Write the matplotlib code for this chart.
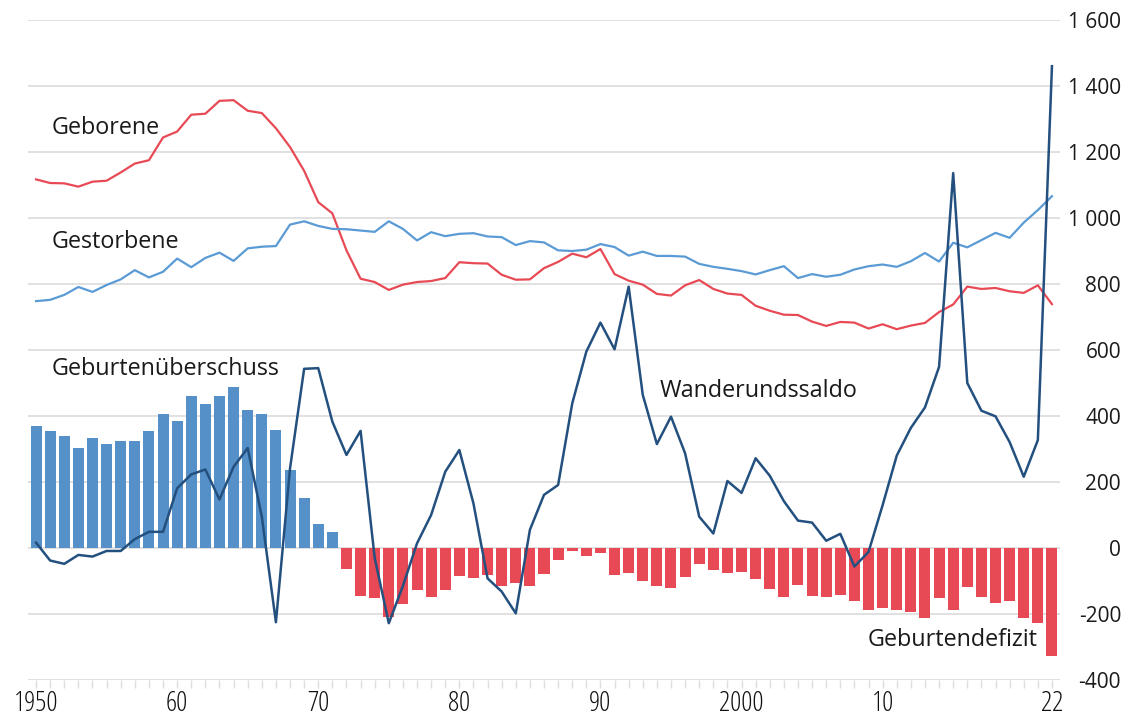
import numpy as np
import matplotlib
matplotlib.use('Agg')
import matplotlib.pyplot as plt

# Bevoelkerungsbewegung Deutschland 1950-2022, in Tausend
years = np.arange(1950, 2023)

births = [1117, 1106, 1105, 1095, 1110, 1113, 1138, 1165, 1175, 1244,
          1262, 1313, 1316, 1355, 1357, 1325, 1318, 1272, 1215, 1143,
          1048, 1014, 902, 816, 806, 782, 798, 806, 809, 818,
          866, 863, 862, 828, 813, 814, 848, 867, 892, 881,
          906, 830, 810, 798, 770, 765, 796, 812, 785, 771,
          767, 734, 719, 707, 706, 686, 673, 685, 683, 665,
          678, 663, 674, 682, 715, 738, 792, 785, 788, 778,
          773, 796, 739]

deaths = [748, 752, 767, 791, 776, 797, 814, 842, 820, 837,
          877, 851, 879, 895, 870, 908, 913, 915, 980, 990,
          976, 967, 966, 962, 958, 990, 967, 932, 957, 945,
          952, 954, 944, 942, 918, 930, 926, 902, 900, 904,
          921, 912, 886, 898, 885, 885, 883, 861, 852, 846,
          839, 829, 842, 854, 818, 830, 822, 828, 844, 854,
          859, 852, 869, 894, 868, 925, 911, 933, 955, 940,
          986, 1024, 1066]

natural = [369, 354, 338, 304, 334, 316, 324, 323, 355, 407,
           385, 462, 437, 460, 487, 417, 405, 357, 235, 153,
           72, 47, -64, -146, -152, -208, -169, -126, -148, -127,
           -86, -91, -82, -114, -105, -116, -78, -35, -8, -23,
           -15, -82, -76, -100, -115, -120, -87, -49, -67, -75,
           -72, -95, -123, -147, -112, -144, -149, -143, -161, -189,
           -181, -189, -195, -212, -153, -187, -119, -148, -167, -162,
           -213, -228, -327]

migration = [16, -38, -48, -21, -26, -9, -9, 27, 49, 49,
             181, 223, 238, 147, 246, 303, 95, -225, 241, 543,
             545, 383, 282, 355, -30, -228, -115, 14, 100, 231,
             297, 135, -92, -132, -198, 55, 161, 191, 438, 595,
             683, 602, 792, 464, 315, 398, 287, 95, 44, 203,
             167, 272, 219, 142, 83, 77, 22, 43, -56, -12,
             130, 280, 364, 426, 549, 1136, 500, 416, 399, 321,
             216, 327, 1460]

yticks = [-400, -200, 0, 200, 400, 600, 800, 1000, 1200, 1400, 1600]
ytick_labels = ['-400', '-200', '0', '200', '400', '600', '800',
                '1 000', '1 200', '1 400', '1 600']
xticks = [1950, 1960, 1970, 1980, 1990, 2000, 2010, 2022]
xtick_labels = ['1950', '60', '70', '80', '90', '2000', '10', '22']

red = '#e84a55'
lightblue = '#5b9bd5'
barblue = '#5590c8'
darkblue = '#23507f'
grid = '#dedede'

plt.rcParams['font.family'] = ['Open Sans', 'DejaVu Sans']

fig = plt.figure(figsize=(11.34, 7.22), dpi=100)
ax = fig.add_axes([28 / 1134, 42 / 722, 1032 / 1134, 660 / 722])

natural = np.array(natural)
colors = [barblue if v >= 0 else red for v in natural]
ax.bar(years, natural, width=0.78, color=colors, zorder=2)

ax.plot(years, births, color=red, lw=1.6, zorder=3)
ax.plot(years, deaths, color=lightblue, lw=1.6, zorder=3)
ax.plot(years, migration, color=darkblue, lw=1.8, zorder=4)

ax.set_xlim(1949.43, 2022.57)
ax.set_ylim(-400, 1600)

for y in yticks:
    ax.axhline(y, color=grid, lw=1.3, zorder=0)

for s in ax.spines.values():
    s.set_visible(False)

ax.yaxis.tick_right()
ax.set_yticks(yticks)
ax.set_yticklabels(ytick_labels)
ax.tick_params(axis='y', length=0, pad=44, labelsize=15, labelcolor='#1a1a1a')
for lab in ax.get_yticklabels():
    lab.set_horizontalalignment('right')

ax.set_xticks(xticks)
ax.set_xticklabels(xtick_labels, fontstretch='condensed')
ax.set_xticks(years, minor=True)
ax.tick_params(axis='x', which='major', length=6, color=grid, width=1,
               labelsize=20, pad=1, labelcolor='#111111')
ax.tick_params(axis='x', which='minor', length=6, color=grid, width=1)

txt = dict(fontsize=16.8, color='#1a1a1a', va='center', ha='left', zorder=5)
ax.text(1951.13, 1273, 'Geborene', **txt)
ax.text(1951.13, 927, 'Gestorbene', **txt)
ax.text(1951.13, 542, 'Geburtenüberschuss', **txt)
ax.text(1994.22, 476, 'Wanderundssaldo', **txt)
ax.text(2008.97, -279, 'Geburtendefizit', **txt)

fig.savefig('out.png', dpi=100)
